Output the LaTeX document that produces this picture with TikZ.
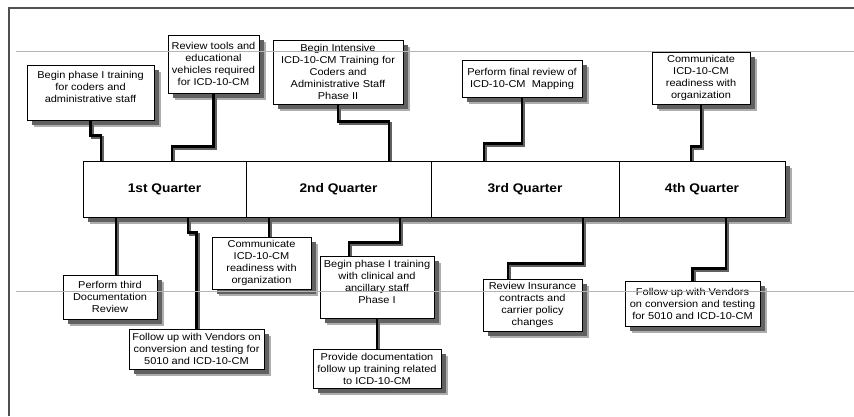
\documentclass[tikz,border=0pt]{standalone}
\usepackage{fontspec}
\setmainfont{Liberation Sans}[FakeStretch=1.1]
\usetikzlibrary{calc}
\definecolor{FrameGray}{HTML}{505050}
\definecolor{GuideGray}{HTML}{B4B4B4}
\colorlet{DropDark}{black!62}
\colorlet{DropLight}{black!32}
\newcommand\shadedbox[7]{%
  \fill[DropLight] (#3-#5/2+7,#4-#6/2+7) rectangle (#3+#5/2+7,#4+#6/2+7);
  \fill[DropDark] (#3-#5/2+5,#4-#6/2+5) rectangle (#3+#5/2+5,#4+#6/2+5);
  \node[#1, minimum width=#5pt, minimum height=#6pt] (#2) at (#3,#4) {#7};}

\begin{document}
\begin{tikzpicture}[x=1pt,y=-1pt, every node/.style={font=\fontsize{10}{12}\selectfont},
  note/.style={draw=black, line width=0.8pt, fill=white, align=center, inner sep=1pt},
  quarter/.style={note, font=\fontsize{12.5}{14}\selectfont\bfseries},
  link/.style={line width=2.6pt, black},
  linkshadow/.style={line width=2.6pt, DropDark},
  guide/.style={GuideGray, line width=0.6pt}]
  \useasboundingbox (0,0) rectangle (854,416);
  \draw[FrameGray, line width=1.1pt] (9,416) -- (9,8) -- (854,8);
  \shadedbox{quarter}{q1}{164.5}{189}{163}{56}{1st Quarter}
  \shadedbox{quarter}{q2}{338.5}{189}{185}{56}{2nd Quarter}
  \shadedbox{quarter}{q3}{525}{189}{188}{56}{3rd Quarter}
  \shadedbox{quarter}{q4}{702}{189}{166}{56}{4th Quarter}
  \shadedbox{note}{tA}{90.5}{92.5}{127}{55}{Begin phase I training\\for coders and\\administrative staff\\ \mbox{}}
  \shadedbox{note}{tB}{213.5}{64}{91}{58}{Review tools and\\educational\\vehicles required\\for ICD-10-CM}
  \shadedbox{note}{tC}{338}{72}{130}{64}{Begin Intensive\\ICD-10-CM Training for\\Coders and\\Administrative Staff\\Phase II}
  \shadedbox{note}{tD}{522}{78.5}{120}{37}{Perform final review of\\ICD-10-CM~ Mapping}
  \shadedbox{note}{tE}{701}{78}{98}{52}{Communicate\\ICD-10-CM\\readiness with\\organization}
  \shadedbox{note}{bF}{110}{297}{94}{44}{Perform third\\Documentation\\Review}
  \shadedbox{note}{bG}{196.5}{349}{135}{40}{Follow up with Vendors on\\conversion and testing for\\5010 and ICD-10-CM}
  \shadedbox{note}{bH}{261.5}{263}{99}{52}{Communicate\\ICD-10-CM\\readiness with\\organization}
  \shadedbox{note}{bI}{377}{287}{114}{62}{Begin phase I training\\with clinical and\\ancillary staff\\Phase I\\[-2pt] \mbox{}}
  \shadedbox{note}{bJ}{377}{368.5}{128}{39}{Provide documentation\\follow up training related\\to ICD-10-CM}
  \shadedbox{note}{bK}{532.5}{305}{99}{52}{Review Insurance\\contracts and\\carrier policy\\changes}
  \shadedbox{note}{bL}{692.5}{303.5}{135}{45}{Follow up with Vendors\\on conversion and testing\\for 5010 and ICD-10-CM}
  \foreach \s/\k in {linkshadow/2,link/0} {
    \draw[\s] ($(tA.south)+(\k,\k)$) -- ++(0,15) -| ($(q1.north)+(\k-63.5,0)$);
    \draw[\s] ($(tB.south)+(\k,\k)$) -- ++(0,53) -| ($(q1.north)+(\k+7.5,0)$);
    \draw[\s] ($(tC.south)+(\k,\k)$) -- ++(0,17) -| ($(q2.north)+(\k+50.5,0)$);
    \draw[\s] ($(tD.south)+(\k,\k)$) -- ++(0,46) -| ($(q3.north)+(\k-41,0)$);
    \draw[\s] ($(tE.south)+(\k,\k)$) -- ++(0,42) -| ($(q4.north)+(\k-11,0)$);
    \draw[\s] ($(q1.south)+(\k-48.5,\k)$) -- ($(bF.north)+(\k+6,0)$);
    \draw[\s] ($(q1.south)+(\k+23.5,\k)$) -- ++(0,15) -| ($(bG.north)+(\k,0)$);
    \draw[\s] ($(q2.south)+(\k-69.5,\k)$) -- ($(bH.north)+(\k+7.5,0)$);
    \draw[\s] ($(q2.south)+(\k+61.5,\k)$) -- ++(0,25) -| ($(bI.north)+(\k-28,0)$);
    \draw[\s] ($(bI.south)+(\k,\k)$) -- ($(bJ.north)+(\k,0)$);
    \draw[\s] ($(q3.south)+(\k+58,\k)$) -- ++(0,46) -| ($(bK.north)+(\k-24.5,0)$);
    \draw[\s] ($(q4.south)+(\k+24,\k)$) -- ++(0,51) -| ($(bL.north)+(\k,0)$);
  }
  \foreach \y in {51,291} {
    \draw[guide] (16,\y) -- (854,\y);
  }
\end{tikzpicture}
\end{document}
